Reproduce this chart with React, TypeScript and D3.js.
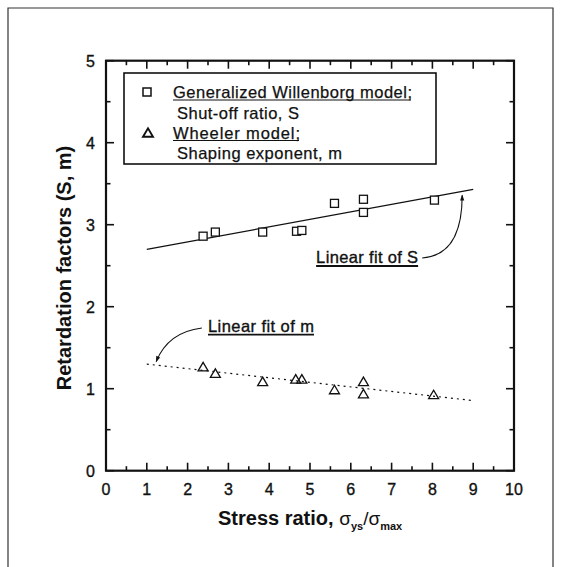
import React from "react";
import * as d3 from "d3";

// Generalized Willenborg model: shut-off ratio S vs. stress ratio
const sStress = [2.38, 2.68, 3.84, 4.67, 4.8, 5.6, 6.31, 6.31, 8.05];
const sValues = [2.86, 2.91, 2.91, 2.92, 2.93, 3.26, 3.31, 3.15, 3.3];

// Wheeler model: shaping exponent m vs. stress ratio
const mStress = [2.38, 2.68, 3.84, 4.65, 4.8, 5.6, 6.31, 6.31, 8.03];
const mValues = [1.27, 1.19, 1.09, 1.12, 1.12, 0.99, 1.09, 0.94, 0.93];

// Linear fit end points [stress ratio, factor]
const fitS: [number, number][] = [
  [1, 2.7],
  [9, 3.43],
];
const fitM: [number, number][] = [
  [1, 1.3],
  [9, 0.855],
];

const xTicks = [0, 1, 2, 3, 4, 5, 6, 7, 8, 9, 10];
const yTicks = [0, 1, 2, 3, 4, 5];
const xMinor = [0.5, 1.5, 2.5, 3.5, 4.5, 5.5, 6.5, 7.5, 8.5, 9.5];
const yMinor = [0.5, 1.5, 2.5, 3.5, 4.5];

const W = 563;
const H = 567;
const FONT = "'Liberation Sans', Arial, Helvetica, sans-serif";

export default function App() {
  const x = d3.scaleLinear().domain([0, 10]).range([106, 514]);
  const y = d3.scaleLinear().domain([0, 5]).range([470.7, 60.7]);
  const [x0, x1] = x.range();
  const [y0, y1] = y.range();
  const line = d3
    .line<[number, number]>()
    .x((d) => x(d[0]))
    .y((d) => y(d[1]));
  const curve = (pts: [number, number][]) => {
    const p = d3.path();
    p.moveTo(x(pts[0][0]), y(pts[0][1]));
    p.quadraticCurveTo(x(pts[1][0]), y(pts[1][1]), x(pts[2][0]), y(pts[2][1]));
    return p.toString();
  };

  const MAJ = 8;
  const MIN = 4.5;
  const sq = 8;
  const tri = (cx: number, cy: number, s = 10) => {
    const h = s * 0.85;
    return `M${cx - s / 2},${cy + h / 2}L${cx + s / 2},${cy + h / 2}L${cx},${cy - h / 2}Z`;
  };

  // legend layout
  const lgX = 124;
  const lgY = 73;
  const lgW = 312;
  const lgH = 91;

  const sLabel = { x: 5.15, y: 2.527 };
  const mLabel = { x: 2.5, y: 1.69 };

  return (
    <svg
      width={W}
      height={H}
      style={{ position: "absolute", left: 0, top: 0, background: "#fff" }}
      fontFamily={FONT}
    >
      <defs>
        <marker
          id="arrowhead"
          viewBox="0 0 10 10"
          refX="9"
          refY="5"
          markerWidth="9"
          markerHeight="6"
          markerUnits="userSpaceOnUse"
          orient="auto"
        >
          <path d="M0,1.5L10,5L0,8.5Z" fill="#111" />
        </marker>
      </defs>
      <rect width={W} height={H} fill="#fff" />
      {/* outer figure frame */}
      <path d={`M8,${H}L8,8L553,8L553,${H}`} fill="none" stroke="#333" strokeWidth={1.2} />

      {/* ticks, inward on all four sides */}
      <g stroke="#111" strokeWidth={1.6}>
        {xTicks.map((t) => (
          <g key={"xt" + t}>
            <line x1={x(t)} x2={x(t)} y1={y0} y2={y0 - MAJ} />
            <line x1={x(t)} x2={x(t)} y1={y1} y2={y1 + MAJ} />
          </g>
        ))}
        {xMinor.map((t) => (
          <g key={"xm" + t}>
            <line x1={x(t)} x2={x(t)} y1={y0} y2={y0 - MIN} />
            <line x1={x(t)} x2={x(t)} y1={y1} y2={y1 + MIN} />
          </g>
        ))}
        {yTicks.map((t) => (
          <g key={"yt" + t}>
            <line x1={x0} x2={x0 + MAJ} y1={y(t)} y2={y(t)} />
            <line x1={x1} x2={x1 - MAJ} y1={y(t)} y2={y(t)} />
          </g>
        ))}
        {yMinor.map((t) => (
          <g key={"ym" + t}>
            <line x1={x0} x2={x0 + MIN} y1={y(t)} y2={y(t)} />
            <line x1={x1} x2={x1 - MIN} y1={y(t)} y2={y(t)} />
          </g>
        ))}
      </g>
      <rect x={x0} y={y1} width={x1 - x0} height={y0 - y1} fill="none" stroke="#111" strokeWidth={2.2} />

      {/* tick labels */}
      <g fontSize={16} fill="#111" stroke="#111" strokeWidth={0.35}>
        {xTicks.map((t) => (
          <text key={"xl" + t} x={x(t)} y={y0 + 24} textAnchor="middle">
            {t}
          </text>
        ))}
        {yTicks.map((t) => (
          <text key={"yl" + t} x={x0 - 11} y={y(t) + 5.8} textAnchor="end">
            {t}
          </text>
        ))}
      </g>

      {/* axis titles */}
      <text x={218} y={525} fontSize={20} fontWeight="bold" fill="#111">
        Stress ratio,{" "}
        <tspan fontWeight="normal" fontSize={19}>σ</tspan>
        <tspan fontSize={11} dy={5}>ys</tspan>
        <tspan dy={-5} fontWeight="normal" fontSize={19}>/σ</tspan>
        <tspan fontSize={11} dy={5}>max</tspan>
      </text>
      <text
        transform={`translate(71,268) rotate(-90)`}
        textAnchor="middle"
        fontSize={20}
        fontWeight="bold"
        fill="#111"
      >
        Retardation factors (S, m)
      </text>

      {/* legend */}
      <rect x={lgX} y={lgY} width={lgW} height={lgH} fill="#fff" stroke="#111" strokeWidth={1.6} />
      <g fontSize={16.5} fill="#111" stroke="#111" strokeWidth={0.25}>
        <rect x={147 - sq / 2} y={92 - sq / 2} width={sq} height={sq} fill="none" stroke="#111" strokeWidth={1.5} />
        <text x={173} y={98} textLength={239} lengthAdjust="spacing">
          Generalized Willenborg model;
        </text>
        <line x1={173} x2={411} y1={100} y2={100} stroke="#111" strokeWidth={1.2} />
        <text x={177} y={119} textLength={122} lengthAdjust="spacing">
          Shut-off ratio, S
        </text>
        <path d={tri(148, 132.5, 10)} fill="none" stroke="#111" strokeWidth={1.9} />
        <text x={173} y={138.5} textLength={127} lengthAdjust="spacing">
          Wheeler model;
        </text>
        <line x1={173} x2={299} y1={140.5} y2={140.5} stroke="#111" strokeWidth={1.2} />
        <text x={177} y={159} textLength={165} lengthAdjust="spacing">
          Shaping exponent, m
        </text>
      </g>

      {/* linear fits */}
      <path d={line(fitS) ?? ""} fill="none" stroke="#111" strokeWidth={1.2} />
      <path d={line(fitM) ?? ""} fill="none" stroke="#111" strokeWidth={1.2} strokeDasharray="2,4" />

      {/* data markers */}
      <g fill="none" stroke="#111" strokeWidth={1.3}>
        {sStress.map((v, i) => (
          <rect key={"s" + i} x={x(v) - sq / 2} y={y(sValues[i]) - sq / 2} width={sq} height={sq} fill="#fff" />
        ))}
        {mStress.map((v, i) => (
          <path key={"m" + i} d={tri(x(v), y(mValues[i]))} />
        ))}
      </g>

      {/* annotations */}
      <g fontSize={16.5} fill="#111" stroke="#111" strokeWidth={0.35}>
        <text x={x(sLabel.x)} y={y(sLabel.y)} textLength={102} lengthAdjust="spacing">
          Linear fit of S
        </text>
        <line
          x1={x(sLabel.x)}
          x2={x(sLabel.x) + 102}
          y1={y(sLabel.y) + 2.5}
          y2={y(sLabel.y) + 2.5}
          stroke="#111"
          strokeWidth={1.8}
        />
        <text x={x(mLabel.x)} y={y(mLabel.y)} textLength={106} lengthAdjust="spacing">
          Linear fit of m
        </text>
        <line
          x1={x(mLabel.x)}
          x2={x(mLabel.x) + 106}
          y1={y(mLabel.y) + 2.5}
          y2={y(mLabel.y) + 2.5}
          stroke="#111"
          strokeWidth={1.8}
        />
      </g>
      <path
        d={curve([
          [7.75, 2.594],
          [8.73, 2.63],
          [8.73, 3.36],
        ])}
        fill="none"
        stroke="#111"
        strokeWidth={1.1}
        markerEnd="url(#arrowhead)"
      />
      <path
        d={curve([
          [2.35, 1.74],
          [1.52, 1.69],
          [1.23, 1.33],
        ])}
        fill="none"
        stroke="#111"
        strokeWidth={1.1}
        markerEnd="url(#arrowhead)"
      />
    </svg>
  );
}
